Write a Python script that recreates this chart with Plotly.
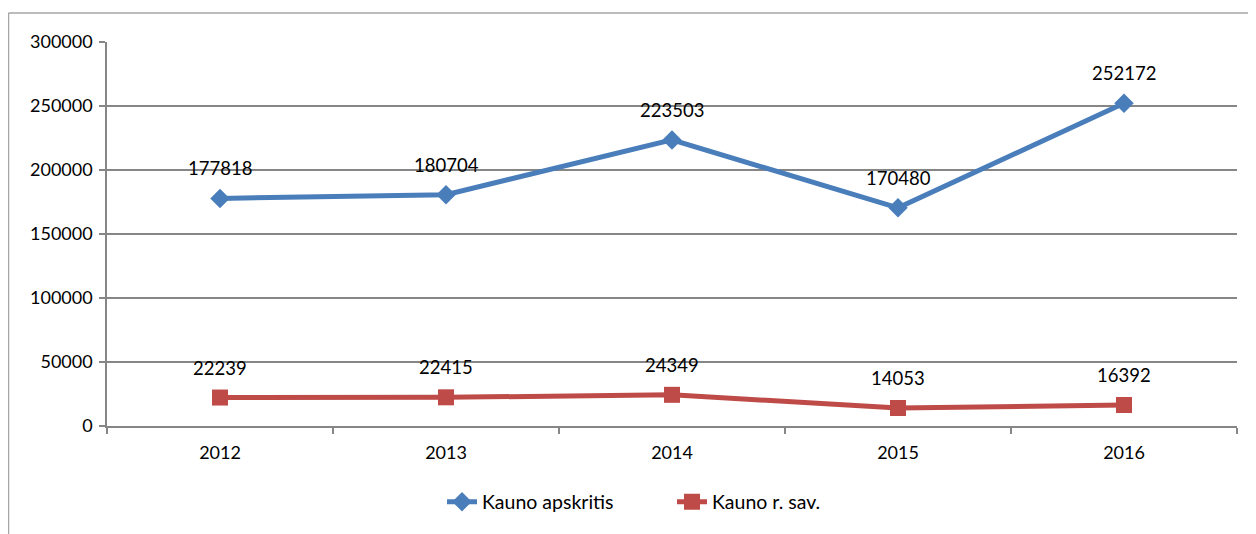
import plotly.graph_objects as go

years = ["2012", "2013", "2014", "2015", "2016"]
apskritis = [177818, 180704, 223503, 170480, 252172]
rsav = [22239, 22415, 24349, 14053, 16392]
y_ticks = [0, 50000, 100000, 150000, 200000, 250000, 300000]

BLUE = "#4a7ebb"
RED = "#be4b48"
FONT = "Lato"

OFF = 8  # page body margin
W, H = 1256 - OFF, 534 - OFF
# screen pixel positions of plot area
SL, SR, ST, SB = 107, 1237, 42, 426
L, T = SL - OFF, ST - OFF
R = W - (SR - OFF)
B = H - (SB - OFF)
pw, ph = W - L - R, H - T - B

fig = go.Figure()
fig.add_trace(go.Scatter(x=years, y=apskritis, name="Kauno apskritis", mode="lines+markers",
                         line=dict(color=BLUE, width=5),
                         marker=dict(symbol="diamond", size=15, color=BLUE)))
fig.add_trace(go.Scatter(x=years, y=rsav, name="Kauno r. sav.", mode="lines+markers",
                         line=dict(color=RED, width=5),
                         marker=dict(symbol="square", size=16, color=RED)))

for ys in (apskritis, rsav):
    for i, yv in enumerate(ys):
        fig.add_annotation(x=i, y=yv, xref="x", yref="y", text=str(yv), showarrow=False,
                           yshift=30, font=dict(family=FONT, size=18.5, color="#000000"))

def px_x(p):
    return (p - OFF - L) / pw

def px_y(p):
    return 1 - (p - OFF - T) / ph

fig.add_shape(type="line", xref="paper", yref="paper", x0=px_x(8.5), x1=px_x(8.5),
              y0=px_y(540), y1=px_y(13), line=dict(color="#a6a6a6", width=1.5))
fig.add_shape(type="line", xref="paper", yref="paper", x0=px_x(8.5), x1=px_x(1260),
              y0=px_y(13), y1=px_y(13), line=dict(color="#a6a6a6", width=1.5))

fig.update_layout(
    width=W, height=H,
    margin=dict(l=L, r=R, t=T, b=B, autoexpand=False),
    plot_bgcolor="white", paper_bgcolor="white",
    font=dict(family=FONT, size=18, color="#000000"),
    showlegend=True,
    legend=dict(orientation="h", x=0.5, xanchor="center", y=px_y(502), yanchor="middle",
                font=dict(family=FONT, size=19.5), traceorder="normal", entrywidth=185),
    xaxis=dict(type="category", tickson="boundaries", ticks="outside", ticklen=6,
               tickcolor="#868686", tickwidth=1.5, showline=True, linecolor="#868686",
               linewidth=1.5, showgrid=False, range=[-0.5, 4.5], ticklabelstandoff=10,
               tickfont=dict(family=FONT, size=18)),
    yaxis=dict(range=[0, 300000], tickvals=y_ticks, ticks="outside", ticklen=6,
               tickcolor="#868686", tickwidth=1.5, showline=True, linecolor="#868686",
               linewidth=1.5, showgrid=True, gridcolor="#868686", gridwidth=1.5,
               zeroline=False, tickformat="d", ticklabelstandoff=3,
               tickfont=dict(family=FONT, size=18)),
)

fig.write_html("out.html")
